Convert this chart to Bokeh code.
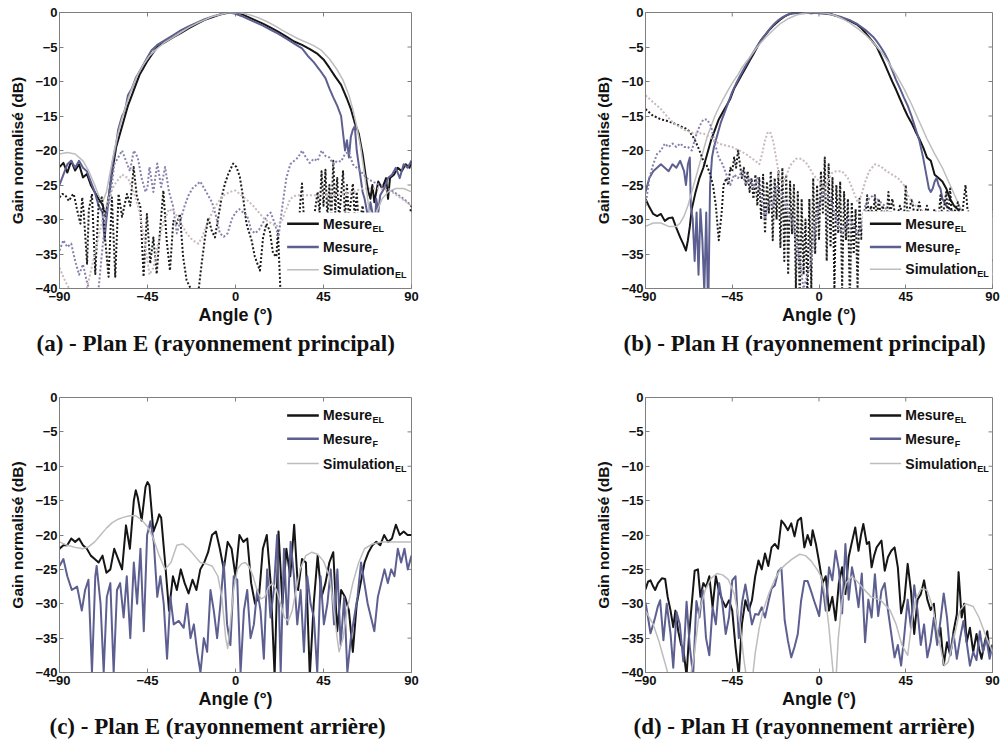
import numpy as np
from bokeh.plotting import figure
from bokeh.layouts import row, column
from bokeh.models import FixedTicker, Label, Range1d
from bokeh.embed import file_html
from bokeh.resources import INLINE

# ---------------- data (angle in degrees, normalised gain in dB) ----------------
X_TICKS = [-90, -45, 0, 45, 90]
Y_TICKS = [-40, -35, -30, -25, -20, -15, -10, -5, 0]
SERIES_LABELS = [("Mesure", "EL"), ("Mesure", "F"), ("Simulation", "EL")]
CAPTIONS = ["(a) - Plan E (rayonnement principal)", "(b) - Plan H (rayonnement principal)",
            "(c) - Plan E (rayonnement arrière)", "(d) - Plan H (rayonnement arrière)"]
X_LABEL = "Angle (°)"
Y_LABEL = "Gain normalisé (dB)"

# (a) Plan E, main radiation
a_el = [[-90,-22.4],[-88,-21.8],[-86,-23.2],[-84,-21.5],[-82,-22.9],[-80,-22],[-78,-23.9],[-76,-23.4],[-74,-25],[-72,-26],[-70,-27],[-68,-27.8],[-66.5,-29.5],[-65,-27],[-63,-23],[-61,-19.5],[-59,-17.5],[-57,-15.5],[-55,-13.5],[-53,-12],[-51,-10.5],[-49,-9],[-47,-8],[-45,-7],[-43,-6.2],[-40,-5],[-36,-4.3],[-32,-3.6],[-28,-3],[-24,-2.3],[-20,-1.7],[-16,-1.1],[-12,-0.7],[-8,-0.3],[-5,-0.1],[-2.5,0],[0,0],[3,-0.2],[6,-0.6],[10,-1.1],[14,-1.6],[18,-2.2],[22,-2.8],[26,-3.5],[30,-4.2],[34,-4.7],[38,-5.3],[42,-6],[45,-6.8],[48,-8],[51,-9.3],[54,-10.5],[57,-12.5],[59,-14],[61,-16],[63,-17.5],[64,-19],[65,-20.5],[66,-22.5],[67,-24.5],[68,-26],[69,-27],[70,-25],[71,-27.5],[72,-26],[73,-24.5],[75,-25.5],[77,-24],[78,-27],[79,-24],[81,-23.5],[83,-22.5],[85,-23],[87,-22],[89,-22.5],[90,-21.5]]
a_f = [[-90,-25],[-88,-23.5],[-86,-22],[-84,-21.5],[-82,-22.5],[-80,-21.5],[-78,-22.5],[-76,-23],[-74,-24.5],[-72,-26],[-70,-28],[-68,-29],[-67,-33],[-66,-30],[-64.5,-26],[-63,-22],[-62,-20.5],[-61,-19],[-60,-17],[-58,-15],[-57,-14.5],[-56,-13.5],[-55,-12],[-53,-11],[-51,-9.5],[-49,-8.5],[-47,-7.5],[-45,-6.5],[-43,-5.5],[-40,-4.7],[-36,-4],[-32,-3.3],[-28,-2.6],[-24,-2],[-20,-1.5],[-16,-1],[-12,-0.6],[-8,-0.3],[-5,0],[-3,0],[0,-0.2],[3,-0.5],[6,-0.9],[10,-1.4],[14,-1.9],[18,-2.5],[22,-3.1],[26,-3.8],[30,-4.5],[34,-5.2],[37,-6.3],[40,-7.2],[43,-8.3],[46,-9.5],[48,-11],[50,-12.3],[52,-13.5],[54,-15],[55,-17.5],[56,-20],[57,-18.5],[58,-21],[59,-18],[60,-17],[61,-16.5],[62,-20],[63,-22],[64,-24],[65,-26],[66,-27],[67,-28.5],[68,-30],[69,-27.5],[70,-29],[71,-32],[72,-27],[73,-29],[74,-26.5],[76,-25.5],[78,-24],[80,-23.5],[82,-22.5],[84,-24],[86,-22],[88,-22.5],[90,-21.5]]
a_sim = [[-90,-20.5],[-86,-20.3],[-82,-20.5],[-78,-21.5],[-75,-23],[-72,-25],[-70,-26.5],[-68,-27.5],[-66,-26],[-64,-23],[-62,-20],[-60,-17.5],[-58,-15.3],[-56,-13.5],[-54,-11.8],[-52,-10.3],[-50,-9],[-47,-7.5],[-44,-6.3],[-40,-5.2],[-36,-4.3],[-32,-3.6],[-28,-2.9],[-24,-2.2],[-20,-1.6],[-16,-1.1],[-12,-0.6],[-8,-0.3],[-4,-0.05],[0,0],[4,-0.1],[8,-0.4],[12,-0.8],[16,-1.3],[20,-1.9],[24,-2.6],[28,-3.2],[32,-3.8],[36,-4.3],[40,-4.8],[44,-5.5],[48,-6.7],[52,-8.3],[55,-9.8],[58,-12],[60,-14],[62,-16.5],[64,-19.5],[66,-23.5],[68,-28],[69,-30],[70,-30.5],[72,-29],[75,-27],[78,-26],[82,-25.5],[86,-25.5],[90,-26]]
a_el_x = [[-90,-26.8],[-88.5,-26.3],[-87,-26.5],[-85.2,-27.3],[-83.5,-26.5],[-82.7,-26.3],[-81,-28.6],[-79.3,-30.6],[-78.4,-26.8],[-77.6,-29],[-75.9,-36.4],[-75,-28.6],[-73.4,-26.3],[-71.7,-37.9],[-70,-27.7],[-68.3,-26.8],[-66.6,-33],[-64.9,-38.3],[-63.2,-26.8],[-61.5,-38.3],[-59.8,-26.3],[-58,-29.6],[-55.5,-26.3],[-53.8,-28],[-52.1,-22.4],[-50.4,-26.8],[-48.7,-28],[-47,-38.3],[-45.3,-29.2],[-43.6,-36.4],[-42,-32.6],[-40.3,-37.9],[-38.6,-31.6],[-36.9,-25.8],[-35.2,-33],[-33.5,-37.4],[-31.8,-30.2],[-30.1,-30.6],[-28.4,-29.2],[-26.8,-35.4],[-25,-38.8],[-23.3,-39.8],[-21.6,-40.5],[-19,-40.5],[-17.3,-36.4],[-15.6,-32.6],[-13.9,-29.7],[-12.2,-31.6],[-10.5,-32.6],[-8.8,-29.7],[-7.1,-26.8],[-5.4,-24.8],[-3.7,-23.4],[-1.2,-21.9],[0.5,-22.4],[2.2,-23.8],[3.9,-26.8],[5.6,-30.6],[8.2,-33],[9.9,-35.4],[12.5,-37.4],[14.1,-32.6],[15.8,-30.6],[17.5,-31.6],[19.2,-34.9],[20.9,-35.4],[21.7,-31.6],[23,-40.5],[25,-42],[28,-41],[31,-40],[33,-28],[34,-24.8],[35,-30],[37,-40],[40,-30],[42,-26],[43,-29],[44,-23],[45,-28],[46,-22.8],[47,-30],[48,-25],[49,-30],[50,-21.5],[51,-29],[52,-24],[53,-30],[55,-23],[56,-30],[57,-25],[58,-30],[60,-24.8],[61,-30],[62,-26],[63,-31],[65,-28],[67,-33],[70,-35],[75,-37],[80,-38],[84,-36],[87,-32],[89,-29.5],[90,-28]]
a_f_x = [[-90,-34.5],[-88,-33],[-86,-34],[-84,-33.5],[-82,-36],[-80,-38],[-78,-36.5],[-76,-39],[-74,-41],[-72,-43],[-70,-40],[-68,-34],[-66,-29],[-64,-26.8],[-62,-22],[-60,-21],[-58,-20],[-56,-21.5],[-54,-23],[-52,-20],[-50,-21],[-48,-24],[-46,-26],[-45,-25.3],[-44,-22.4],[-42,-26],[-40,-21.9],[-38,-25.3],[-36,-22.4],[-34,-26],[-32,-28],[-30,-32],[-28,-30],[-26,-28],[-24,-26.5],[-22,-25.5],[-20,-25],[-18,-24.5],[-16,-25.5],[-14,-26.5],[-12,-27.5],[-10,-29.5],[-8,-32],[-6,-32.5],[-4,-32],[-2,-30],[0,-29],[2,-28.5],[4,-29],[6,-29.5],[8,-31.5],[10,-32],[12,-31.5],[14,-30.5],[16,-29.5],[18,-29],[20,-30.5],[22,-32.5],[24,-28],[26,-24],[28,-22],[30,-21.5],[32,-21],[34,-20],[36,-21],[38,-21.8],[40,-21.2],[42,-21.5],[44,-20],[46,-20.8],[48,-21],[50,-22],[52,-21.5],[54,-21.6],[56,-20.5],[58,-20.2],[60,-22],[62,-22.5],[64,-23],[67,-24],[70,-24.5],[74,-25],[78,-25.5],[82,-26.2],[86,-27],[90,-28]]
a_sim_x = [[-90,-37],[-87,-39],[-84,-40.5],[-80,-42],[-76,-40],[-72,-35],[-68,-30],[-65,-27],[-62,-25],[-58,-23.5],[-55,-24],[-52,-26],[-49,-29],[-46,-34],[-44,-38],[-42,-37],[-40,-34],[-37,-30.5],[-34,-28.5],[-31,-29],[-28,-30.5],[-25,-32],[-22,-33],[-19,-33.5],[-17,-32.5],[-15,-31],[-12,-29],[-9,-27.5],[-6,-26.5],[-3,-26],[0,-25.8],[3,-26.5],[6,-27.2],[9,-28],[12,-29],[15,-30],[18,-30.5],[21,-31],[24,-30],[26,-28.5],[28,-27],[31,-26.5],[35,-26.5],[40,-26.5],[45,-26.5],[50,-26.5],[55,-26.3],[60,-26],[65,-25.5],[70,-25.5],[75,-25.5],[80,-26],[85,-27],[90,-28]]

# (b) Plan H, main radiation
b_el = [[-90,-27],[-88,-28.2],[-86,-29.2],[-84,-29.5],[-82,-29.2],[-80,-30.2],[-78,-29.8],[-76,-29.7],[-74,-31.2],[-72,-32.6],[-70.5,-33.5],[-69,-34.5],[-68,-33],[-67,-31],[-66,-28.5],[-64,-26],[-62,-24],[-60,-22.5],[-58,-20.5],[-56,-18.5],[-54,-17],[-52,-15.5],[-50,-14.5],[-48,-13.5],[-46,-12.5],[-44,-11],[-42,-10],[-40,-9],[-38,-8],[-36,-7],[-34,-6],[-32,-5],[-30,-4],[-28,-3.3],[-26,-2.6],[-24,-2],[-22,-1.5],[-20,-1],[-18,-0.6],[-16,-0.3],[-14,-0.1],[-12,0],[-8,0],[-4,-0.1],[0,0],[2,0],[4,-0.1],[6,-0.2],[8,-0.4],[10,-0.6],[12,-0.8],[14,-1],[16,-1.2],[18,-1.5],[20,-1.8],[22,-2.3],[24,-2.9],[26,-3.6],[28,-4.3],[30,-5],[32,-6.2],[34,-7.4],[36,-8.7],[38,-10],[40,-11.2],[42,-12.5],[44,-13.8],[46,-15],[48,-16],[50,-17.2],[52,-18.3],[54,-19.5],[56,-21],[58,-21.5],[60,-23.5],[62,-24],[64,-24.5],[66,-25.5],[68,-27],[70,-28],[72,-28.5],[74,-29.5],[76,-31],[80,-33],[85,-35],[90,-36]]
b_f = [[-90,-26],[-88,-24],[-86,-23],[-84,-22.5],[-82,-22],[-80,-22.5],[-78,-23],[-76,-22],[-74,-22.5],[-72,-21.5],[-70,-23],[-69,-25],[-68,-22],[-67,-21],[-66.5,-28],[-65.5,-30],[-64.5,-36],[-63.5,-29],[-62.5,-38],[-61.5,-28.5],[-60.5,-33],[-59.5,-40.5],[-58.5,-29],[-57.5,-44],[-56.5,-25],[-55.5,-21],[-54.5,-19.5],[-53,-18],[-51,-16],[-49,-14.5],[-47,-13],[-45,-11.5],[-43,-10.3],[-41,-9.2],[-39,-8.2],[-37,-7.2],[-35,-6.2],[-33,-5.3],[-31,-4.4],[-29,-3.6],[-27,-2.9],[-25,-2.2],[-23,-1.6],[-21,-1.1],[-19,-0.7],[-17,-0.4],[-15,-0.2],[-12,-0.1],[-8,-0.1],[-4,0],[0,-0.1],[4,-0.2],[8,-0.4],[12,-0.7],[16,-1.1],[20,-1.7],[24,-2.5],[28,-3.5],[30,-4.2],[32,-5],[34,-5.9],[36,-7],[38,-8.4],[40,-9.8],[42,-11],[44,-12.3],[46,-13.5],[48,-15],[50,-16.8],[52,-18.5],[54,-21],[56,-24],[57,-25.5],[58,-26],[59,-25.5],[60,-24.5],[61,-24],[62,-25],[63,-25.5],[64,-27],[66,-28],[68,-28.5],[70,-29],[72,-30],[75,-32],[80,-35],[85,-38],[90,-40]]
b_sim = [[-90,-31],[-86,-30.5],[-82,-30.5],[-78,-31],[-74,-31],[-72,-30.5],[-70,-29.5],[-68,-28],[-66,-26],[-64,-24],[-62,-22],[-60,-20],[-58,-18],[-56,-16.5],[-54,-15],[-52,-13.8],[-50,-12.7],[-48,-11.7],[-46,-10.7],[-44,-9.8],[-42,-9],[-40,-8],[-36,-6.5],[-32,-5],[-28,-3.7],[-24,-2.6],[-20,-1.6],[-16,-0.9],[-12,-0.4],[-8,-0.1],[-4,0],[0,0],[4,-0.1],[8,-0.4],[12,-0.9],[16,-1.5],[20,-2.3],[24,-3.2],[28,-4.3],[32,-5.6],[36,-7.2],[40,-9],[44,-11],[48,-13.3],[52,-15.8],[56,-18.3],[60,-20.5],[64,-22.5],[68,-25],[72,-27.5],[76,-30],[80,-32.5],[85,-35.5],[90,-38]]
b_el_x = [[-90,-14],[-88,-14.5],[-86,-15],[-84,-15.2],[-82,-15.5],[-80,-15.6],[-78,-15.8],[-76,-16],[-74,-16.2],[-72,-16.5],[-70,-16.7],[-68,-17],[-66,-17.7],[-64,-18.7],[-62,-20],[-60,-21.5],[-58.5,-22],[-57,-23],[-55,-25],[-53.5,-28],[-52,-33],[-50.5,-29],[-49.5,-25],[-48,-24],[-47,-25],[-46,-22.5],[-45,-23],[-44,-21],[-43,-22.5],[-42,-20],[-41,-22],[-40,-24],[-39,-22.5],[-38,-25],[-37,-23],[-36,-26],[-35,-24],[-34,-27],[-33,-23.5],[-32,-28],[-31,-24],[-30,-30],[-29,-23.5],[-28,-32],[-27,-24.5],[-26,-29],[-25,-23],[-24,-33],[-23,-24],[-22,-30],[-21,-23],[-20,-34],[-19,-22.5],[-18,-36],[-17,-23.5],[-16,-38],[-15,-24.5],[-14,-32],[-13,-25],[-12,-40],[-11,-26],[-10,-42],[-9,-27],[-8,-38],[-7,-30],[-6,-41],[-5,-27],[-4,-40],[-3,-24],[-2,-35],[-1,-25],[0,-33],[1,-23],[2,-29],[3,-21],[4,-36],[5,-22],[6,-34],[7,-24],[8,-40],[9,-25],[10,-32],[11,-24.5],[12,-40],[13,-26],[14,-33],[15,-27],[16,-42],[17,-27.5],[18,-35],[19,-28.5],[20,-40],[21,-27],[22,-33],[23,-29],[24,-30],[25,-26.5],[26,-30],[27,-28],[28,-30],[29,-26.5],[30,-30],[31,-27],[32,-29.5],[33,-28],[35,-30],[36,-26],[37,-29.5],[38,-27],[40,-30],[42,-28],[44,-30],[45,-25],[46,-30],[48,-27],[50,-30],[52,-27.5],[54,-30],[56,-28],[58,-30],[60,-28.5],[62,-30],[63,-26.5],[64,-30],[66,-26],[67,-30],[68,-25.5],[69,-30],[72,-27.5],[74,-30],[76,-25],[77,-28.5],[79,-30],[82,-34],[85,-38],[87,-35],[88,-32],[89,-30],[90,-29]]
b_f_x = [[-90,-28],[-88,-24],[-86,-22],[-84,-20.5],[-82,-20],[-80,-19],[-78,-19.5],[-76,-19],[-74,-19.5],[-72,-19],[-70,-19.5],[-68,-19.5],[-66,-20],[-64,-18],[-62,-16.5],[-60,-15.5],[-58,-15.5],[-56,-16.5],[-54,-19],[-52,-21],[-50,-22],[-48,-23.5],[-46,-25],[-44,-23.5],[-42,-24],[-40,-23],[-38,-25],[-36,-24],[-34,-25.5],[-32,-24],[-30,-26.5],[-28,-30],[-26,-27.5],[-24,-28],[-22,-25],[-20,-26],[-18,-27],[-16,-29],[-14,-30],[-12,-33],[-10,-36],[-8,-40],[-6,-38],[-4,-36],[-2,-31],[0,-28],[2,-26],[4,-26.5],[6,-27],[8,-29],[10,-31],[12,-32],[14,-30.5],[16,-30],[18,-31],[20,-32],[22,-31],[24,-28],[26,-27],[28,-26.5],[30,-27],[32,-27.5],[34,-28],[36,-29],[38,-30],[40,-33],[44,-36],[50,-38],[55,-40],[60,-42],[65,-41],[70,-40],[75,-40.5],[80,-41],[84,-40],[87,-38],[88,-32],[89,-30],[90,-30]]
b_sim_x = [[-90,-12],[-86,-13],[-82,-14],[-79,-15],[-75.6,-16],[-70,-17],[-65,-17.5],[-60,-17.5],[-57,-18],[-52,-19],[-45,-19.5],[-38,-20.5],[-33,-21.5],[-31,-22],[-29.5,-20.5],[-28,-18.5],[-26.5,-17.3],[-25,-17.5],[-23.5,-19],[-22,-21.5],[-20.5,-24],[-19,-25],[-17.5,-24],[-15,-22.2],[-12,-21.2],[-9,-21.2],[-6,-22],[-3,-23.5],[0,-24.5],[2.5,-25.5],[4.5,-24.5],[6.5,-23.3],[9,-23],[12,-23],[15,-24],[18,-26],[20,-27.5],[22,-26.5],[24,-24.5],[26,-23],[29,-22],[32,-22.3],[35,-23],[38,-23.5],[41,-24],[44,-25],[47,-27],[50,-28],[55,-29],[60,-30],[70,-30],[80,-30],[90,-30]]

# (c) Plan E, back radiation
c_el = [[-90,-22],[-88,-21.5],[-86,-21.5],[-84,-20.5],[-82,-21],[-80,-20.5],[-78,-21.5],[-76,-22],[-74,-23],[-72,-23.5],[-70,-24],[-68,-23],[-66,-25.5],[-64,-25],[-62,-22],[-60,-23.5],[-58,-25],[-56,-18.6],[-54,-22],[-52,-15],[-51,-13.5],[-50,-14.5],[-48,-17.9],[-46,-13],[-45,-12.3],[-44,-12.8],[-42,-19.5],[-40,-18],[-39,-17],[-38,-17.5],[-36,-24],[-34,-31],[-32,-26],[-30,-28],[-28,-25],[-26,-27],[-24,-28.5],[-22,-26.5],[-20,-28],[-18,-25],[-16,-24],[-14,-22.5],[-12,-20],[-10,-19.5],[-8,-22],[-6,-25],[-4,-21],[-2,-22],[0,-26],[2,-20],[4,-21],[6,-20.5],[8,-27],[10,-30],[12,-29],[14,-22],[16,-20],[18,-27],[20,-40.5],[22,-19.5],[24,-30],[26,-22],[28,-26],[30,-18.5],[32,-28],[34,-23.5],[36,-24],[38,-40.5],[40,-30],[42,-23],[44,-29],[46,-27],[48,-24],[50,-22.5],[52,-34],[54,-28],[56,-29],[58,-31],[60,-37],[62,-30],[64,-27],[66,-24],[68,-22.5],[70,-21.5],[72,-21],[74,-21.5],[76,-20],[78,-21],[80,-20.5],[82,-18.5],[84,-20],[86,-19.5],[88,-20],[90,-20]]
c_f = [[-90,-24.5],[-88,-23.5],[-86,-26],[-83.7,-28],[-81,-27.5],[-78.6,-31],[-76.9,-28],[-75.2,-26.5],[-73.4,-40],[-71.7,-26],[-71,-24.5],[-69,-30],[-67.4,-40],[-65.8,-29],[-64,-27],[-62.3,-40],[-60.6,-28],[-59,-27],[-57.2,-32],[-55.6,-26],[-53.8,-35],[-52,-24],[-50.3,-30],[-48.6,-22],[-46.9,-34],[-45.2,-20],[-43.5,-18],[-41.8,-21],[-40,-29],[-38.4,-26],[-36.7,-30],[-35,-38],[-33.3,-29],[-31.6,-33],[-29,-32.5],[-26.5,-33.5],[-24.8,-30],[-23,-35],[-21.3,-33],[-19.6,-37],[-17.9,-40],[-16.2,-35],[-14.5,-37],[-12.8,-28],[-11.1,-31],[-9.4,-35],[-7.7,-30],[-6,-24],[-4.3,-33],[-2.6,-36],[-0.9,-26],[0.9,-26.5],[2.6,-40],[4.3,-31],[6,-28],[7.7,-35],[9.4,-33],[11.1,-28],[12.8,-31],[14.5,-38],[16.2,-25],[17.9,-32],[19.6,-28],[21.3,-20],[23.1,-40],[24.8,-22],[26.5,-33],[28.2,-21],[29.9,-26],[31.6,-33],[33.3,-28],[35,-37],[36.7,-26],[38.4,-30],[40.1,-32],[41.8,-40],[43.5,-26],[45.2,-33],[47,-30],[48.7,-25],[50.4,-33],[52.1,-25],[53.8,-36],[55.6,-29],[57.2,-40],[59,-35],[60.7,-32],[62.4,-29],[64.2,-24],[65.9,-27],[67.6,-30],[69.3,-32],[71,-34],[72.8,-29],[74.5,-27],[76.2,-25],[77.9,-27],[79.6,-25],[81.3,-26],[83,-22],[84.7,-24],[86.4,-22],[88.1,-25],[90,-23]]
c_sim = [[-90,-21],[-86,-21.5],[-82,-21.8],[-78,-22],[-75,-21.7],[-72,-21],[-69,-20],[-66,-19],[-63,-18.2],[-60,-17.7],[-57,-17.4],[-54,-17.2],[-51,-17.2],[-48,-17.8],[-45,-18.8],[-42,-20.5],[-39,-23],[-36,-25],[-33,-24],[-30,-21.5],[-27,-21.3],[-24,-22],[-21,-23],[-18,-24],[-15,-24.2],[-12,-24.5],[-9,-26],[-7,-29],[-5,-35],[-4,-36.5],[-3,-34],[-1,-28],[1,-25],[3,-24.2],[5,-24],[7,-24.6],[9,-26],[11,-28],[13,-29.3],[15,-29],[17,-27.5],[19,-27],[21,-28],[23,-30],[25,-32],[27,-32.5],[29,-31],[31,-28],[33,-25],[36,-23],[39,-22.5],[42,-22.8],[45,-23.8],[48,-26],[50,-30],[52,-35],[53,-37],[55,-35],[57,-31],[60,-27],[63,-24],[66,-22],[70,-21.3],[75,-21],[80,-21],[85,-21],[90,-21]]

# (d) Plan H, back radiation
d_el = [[-90,-27.9],[-88.7,-26.8],[-87.4,-26.6],[-86,-27.5],[-85,-28],[-83.5,-27],[-81.5,-26.3],[-79.8,-26.4],[-78.5,-29],[-77,-31],[-75.6,-33.4],[-74.5,-31],[-73,-34],[-71.5,-36],[-70.4,-36.5],[-68.7,-40.5],[-67.5,-35],[-66,-30],[-64.5,-25.2],[-62.8,-25],[-61.5,-29],[-60,-27],[-58.6,-27.6],[-56.9,-26],[-55.2,-30.5],[-53.5,-26],[-52,-28],[-50.1,-29.5],[-48.4,-30.5],[-46.7,-29.5],[-45,-31],[-43.3,-36.3],[-41.6,-40.5],[-40,-33],[-38.2,-29.5],[-36.5,-31],[-34.8,-29.5],[-33.1,-26],[-31.4,-23.7],[-29.7,-25],[-28,-22.7],[-26.3,-24.5],[-24.6,-21.8],[-22.9,-21.3],[-21.2,-22],[-19.5,-17.9],[-17.8,-18.5],[-16.1,-19.3],[-14.4,-18.3],[-12.7,-20.2],[-11,-17.9],[-9.3,-17.5],[-7.6,-21.8],[-5.9,-20],[-4.2,-21.5],[-3.3,-19.3],[-1.6,-21.3],[0.1,-24],[1.8,-27],[3.5,-26],[5.2,-31],[6.9,-29],[8.6,-32.4],[10.3,-27],[12,-24.7],[13.7,-28.6],[15.4,-23.2],[17.1,-21],[18.8,-18.9],[20.5,-22.3],[21.8,-20],[23,-18.4],[24.8,-21.3],[26,-21],[27.3,-24.7],[28.6,-23],[29.9,-21.8],[32.4,-20.8],[34.1,-25.2],[35.8,-23.2],[37.5,-22.3],[39.2,-21.8],[40.9,-24.7],[42.6,-31.4],[44.3,-29.4],[46,-24.2],[47.7,-28.1],[49.4,-34.4],[51.1,-29.4],[52.8,-28.6],[54.5,-26.6],[56.2,-29.4],[57.9,-30.9],[59.6,-30],[61.3,-35.6],[63,-33.5],[64.7,-38.9],[66.4,-35.6],[68.1,-37.5],[69.8,-34],[71.5,-31.5],[72.4,-25.4],[74,-32],[75.3,-30],[76.6,-35.6],[78.3,-33.5],[80,-37],[81.7,-34.4],[83,-36.5],[84.3,-38],[86,-35.6],[87.3,-34],[88.5,-37],[90,-36]]
d_f = [[-90,-29.8],[-88.7,-32],[-87.4,-34.3],[-86,-33],[-85,-32],[-83.7,-30.5],[-82.4,-29.5],[-80.7,-35.3],[-79,-30],[-77,-34.4],[-75.6,-39.3],[-73.9,-31.2],[-72.2,-33],[-70.4,-38.4],[-68.7,-29.7],[-67,-36.3],[-65.3,-40.5],[-63.6,-29.6],[-62,-32],[-60.3,-28],[-58.6,-35],[-56.9,-37.5],[-55.2,-30.5],[-53.5,-33],[-51.8,-27],[-50.1,-30],[-48.4,-34.4],[-46.7,-32],[-45,-26.6],[-43.3,-26],[-41.6,-35],[-39.9,-29.8],[-38.2,-27.2],[-36.5,-30],[-34.8,-33],[-33.1,-31.5],[-31.4,-31.6],[-29.7,-30.5],[-28,-32],[-26.3,-29.8],[-24.6,-27.8],[-22.9,-27.3],[-21.2,-25.3],[-19.5,-24.8],[-17.8,-32.4],[-16.1,-35.4],[-14.4,-37.8],[-12.7,-36.3],[-11,-34.4],[-9.3,-29.6],[-7.6,-26.7],[-5.9,-26.7],[-4.2,-28.1],[-2.5,-29.6],[-0.8,-31],[0.1,-31.8],[1.8,-27],[3.5,-31],[5.2,-24.7],[6.9,-26.6],[8.6,-22.3],[10.3,-25],[12,-31.4],[13.7,-21.3],[15.4,-29.4],[17.1,-24.7],[18.8,-27],[20.5,-30.5],[22.2,-25.6],[23.9,-35.6],[25.6,-29.4],[27.3,-32],[29,-25.7],[30.7,-31.8],[32.4,-28.1],[34.1,-27],[35.8,-31],[37.5,-34.4],[39.2,-37.8],[40.9,-36],[42.6,-39],[44.3,-34.4],[46,-29.4],[47.7,-33.5],[49.4,-27.3],[51.1,-31],[52.8,-36],[54.5,-33],[56.2,-37.8],[57.9,-35.6],[59.6,-32],[61.3,-36],[63,-32.5],[64.7,-28.5],[66.4,-32],[68.1,-37.5],[69.8,-34.4],[71.5,-38],[73.2,-35],[74.9,-32.5],[76.6,-35.6],[78.3,-39],[80,-37],[81.7,-38.2],[83.4,-34],[85.1,-37],[86.8,-35],[88.5,-38],[90,-36]]
d_sim = [[-90,-31],[-86,-33],[-83,-35.5],[-80,-38.5],[-78,-40.5],[-75,-43],[-70,-43],[-67,-41],[-65,-38],[-62,-31],[-59,-28],[-56,-26.3],[-53,-25.6],[-50,-25.8],[-47,-26.5],[-44,-28.5],[-41,-33],[-39,-38],[-37,-42],[-35,-42],[-33,-37],[-31,-33.5],[-29,-31],[-26,-28.5],[-23,-26.5],[-20,-25],[-17,-24.2],[-14,-23.5],[-10,-22.8],[-7,-23],[-4,-23.8],[-1,-25],[1,-26],[3,-28.5],[5,-33],[7,-39],[8,-42],[9,-40],[10,-35],[12,-29.5],[14,-27],[17,-26],[20,-26.8],[23,-27.8],[27,-29],[32,-29.5],[37,-31],[40,-33],[43,-36],[46,-37.5],[48,-33],[50,-29.5],[53,-27.8],[56,-28],[59,-30.5],[62,-35],[65,-39],[67,-38.5],[70,-35],[73,-31],[76,-30],[80,-30.4],[83,-32],[87,-35],[90,-37]]

# ---------------- styling ----------------
C_EL, C_F, C_SIM = "#151515", "#5d5f90", "#bdbdbd"
C_EL_X, C_F_X, C_SIM_X = "#1c1c1c", "#8682ad", "#c8b9bb"
FRAME = "#7f7f7f"
SANS = "Liberation Sans"
SERIF = "Liberation Serif"
TEXT_W = {"Mesure": 49, "Simulation": 71.5}
DOT = "2 2"


def make_panel(caption, width, height, mbl, mbr, mbt, mbb, title_standoff, title_offset):
    p = figure(width=width, height=height, x_range=Range1d(-90, 90), y_range=Range1d(-40, 0),
               output_backend="svg", toolbar_location=None, title=caption, title_location="below",
               min_border_left=mbl, min_border_right=mbr, min_border_top=mbt, min_border_bottom=mbb)
    p.grid.visible = False
    p.outline_line_color = FRAME
    p.outline_line_width = 1
    p.background_fill_color = "white"
    p.border_fill_color = "white"
    for ax, ticks in ((p.xaxis[0], X_TICKS), (p.yaxis[0], Y_TICKS)):
        ax.ticker = FixedTicker(ticks=ticks)
        ax.major_tick_in = 4
        ax.major_tick_out = 0
        ax.minor_tick_line_color = None
        ax.axis_line_color = FRAME
        ax.major_tick_line_color = FRAME
        ax.major_label_text_font = SANS
        ax.major_label_text_font_style = "bold"
        ax.major_label_text_font_size = "13px"
        ax.major_label_text_color = "#111111"
        ax.major_label_standoff = 3
        ax.axis_label_text_font = SANS
        ax.axis_label_text_font_style = "bold"
        ax.axis_label_text_color = "#111111"
    p.xaxis[0].axis_label = X_LABEL
    p.xaxis[0].axis_label_text_font_size = "18px"
    p.xaxis[0].axis_label_standoff = 1
    p.yaxis[0].axis_label = Y_LABEL
    p.yaxis[0].axis_label_text_font_size = "15.5px"
    p.yaxis[0].axis_label_standoff = 6
    p.yaxis[0].major_label_standoff = 2
    # mirrored inward ticks on the top and right edges of the box
    p.ray(x=X_TICKS[1:-1], y=[0] * (len(X_TICKS) - 2), length=4, length_units="screen",
          angle=-np.pi / 2, line_color=FRAME, line_width=1)
    p.ray(x=[90] * (len(Y_TICKS) - 2), y=Y_TICKS[1:-1], length=4, length_units="screen",
          angle=np.pi, line_color=FRAME, line_width=1)
    p.title.text_font = SERIF
    p.title.text_font_style = "bold"
    p.title.text_font_size = "23px"
    p.title.text_color = "#111111"
    p.title.align = "left"
    p.title.offset = title_offset
    p.title.standoff = title_standoff
    return p


def draw(p, pts, color, width, dash="solid"):
    arr = np.array(pts, dtype=float)
    p.line(arr[:, 0], arr[:, 1], line_color=color, line_width=width, line_dash=dash,
           line_join="round")


def add_legend(p, x0, x1, xt, rows, box=None):
    if box is not None:
        p.quad(left=[box[0]], right=[90], bottom=[-40], top=[box[1]], fill_color="white",
               line_color=None)
    styles = [(C_EL, 2.5), (C_F, 2.5), (C_SIM, 1.5)]
    for (main, sub), (col, w), y in zip(SERIES_LABELS, styles, rows):
        p.segment(x0=[x0], y0=[y], x1=[x1], y1=[y], line_color=col, line_width=w)
        p.add_layout(Label(x=xt, y=y, text=main, text_font=SANS, text_font_style="bold",
                           text_font_size="14px", text_baseline="middle", text_color="#111111"))
        p.add_layout(Label(x=xt, y=y, x_offset=TEXT_W[main] + 0.5, y_offset=-5, text=sub,
                           text_font=SANS, text_font_style="bold", text_font_size="9px",
                           text_baseline="middle", text_color="#111111"))


pa = make_panel(CAPTIONS[0], 500, 370, 59, 89, 12, 82, 2, -23)
for pts, c, w in ((a_el, C_EL, 2), (a_f, C_F, 2), (a_sim, C_SIM, 1.5)):
    draw(pa, pts, c, w)
for pts, c in ((a_el_x, C_EL_X), (a_f_x, C_F_X), (a_sim_x, C_SIM_X)):
    draw(pa, pts, c, 2, DOT)
add_legend(pa, 26.4, 42.6, 44.8, [-30.6, -34.0, -37.3], box=(25.5, -29.0))

pb = make_panel(CAPTIONS[1], 501, 370, 145, 9, 12, 82, 2, -22)
for pts, c, w in ((b_el, C_EL, 2), (b_f, C_F, 2), (b_sim, C_SIM, 1.5)):
    draw(pb, pts, c, w)
for pts, c in ((b_el_x, C_EL_X), (b_f_x, C_F_X), (b_sim_x, C_SIM_X)):
    draw(pb, pts, c, 2, DOT)
add_legend(pb, 26.4, 42.6, 44.8, [-30.6, -34.0, -37.2], box=(22.5, -28.8))

pc = make_panel(CAPTIONS[2], 500, 370, 59, 89, 27, 68, 0, -10)
for pts, c, w in ((c_el, C_EL, 2), (c_f, C_F, 2), (c_sim, C_SIM, 1.5)):
    draw(pc, pts, c, w)
add_legend(pc, 26.4, 42.6, 44.8, [-2.6, -6.0, -9.6])

pd = make_panel(CAPTIONS[3], 501, 370, 145, 9, 27, 68, 0, -12)
for pts, c, w in ((d_el, C_EL, 2), (d_f, C_F, 2), (d_sim, C_SIM, 1.5)):
    draw(pd, pts, c, w)
add_legend(pd, 26.4, 42.6, 44.8, [-2.6, -6.0, -9.6])

layout = column(row(pa, pb), row(pc, pd))
open("out.html", "w").write(file_html(layout, INLINE))
